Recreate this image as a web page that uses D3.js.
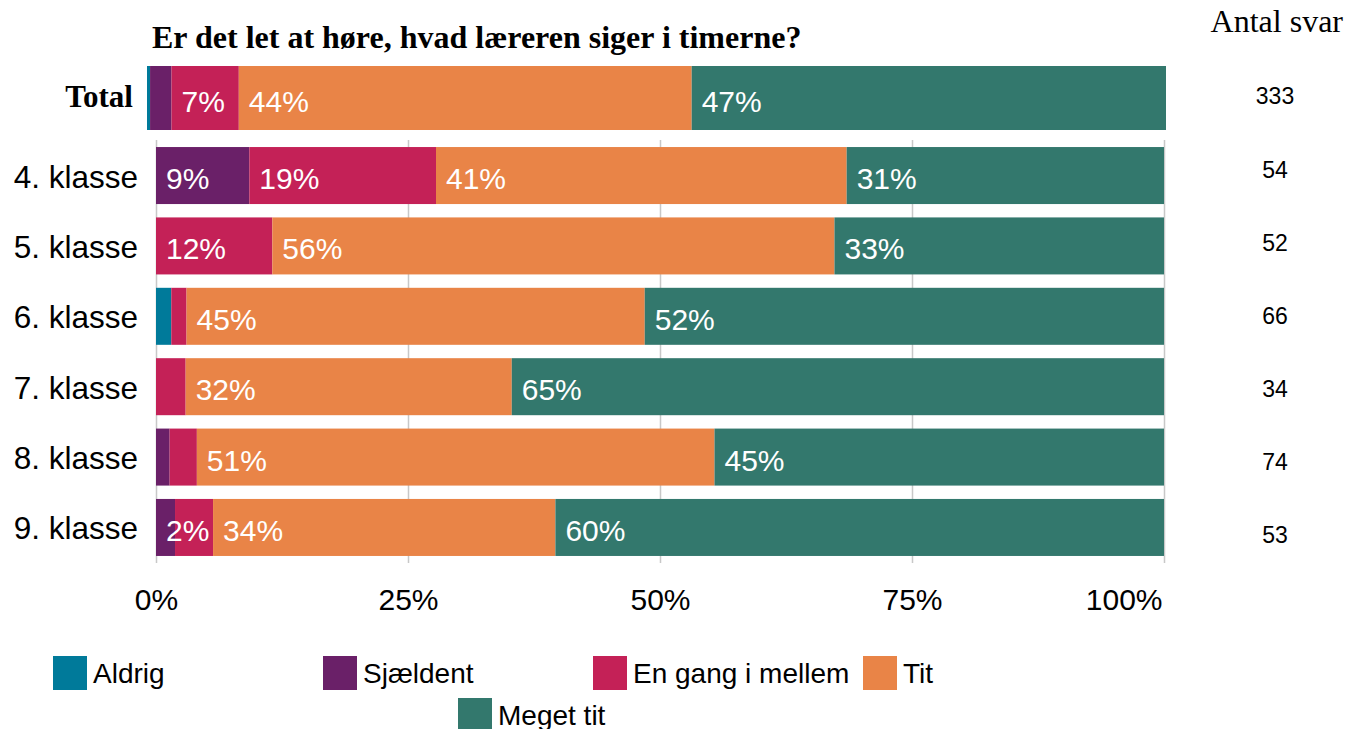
<!DOCTYPE html>
<html>
<head>
<meta charset="utf-8">
<script src="https://cdn.jsdelivr.net/npm/d3@7"></script>
<style>
  body { margin: 0; background: #fff; }
  text { font-family: "Liberation Sans", Arial, sans-serif; }
</style>
</head>
<body>
<div id="viz"></div>
<script>
// answer categories and colours
var categories = ['Aldrig', 'Sjældent', 'En gang i mellem', 'Tit', 'Meget tit'];
var colors = ['#007a9a', '#6a2068', '#c42157', '#e98447', '#33786d'];

// rows: total first, then each grade
var rows = ['Total', '4. klasse', '5. klasse', '6. klasse', '7. klasse', '8. klasse', '9. klasse'];

// number of answers per category, one value per row
var aldrig    = [1, 0, 0, 1, 0, 0, 0];
var sjaeldent = [7, 5, 0, 0, 0, 1, 1];
var enGang    = [22, 10, 6, 1, 1, 2, 2];
var tit       = [148, 22, 29, 30, 11, 38, 18];
var megetTit  = [155, 17, 17, 34, 22, 33, 32];

// small segments that still got a label in the original
var forcedLabels = [['9. klasse', 'Sjældent']];

var tickValues = [0, 0.25, 0.5, 0.75, 1];

var series = [aldrig, sjaeldent, enGang, tit, megetTit];

// build stacked rows
var data = rows.map(function(r, i) {
  var total = d3.sum(series, function(s) { return s[i]; });
  var x0 = 0;
  var segs = categories.map(function(c, j) {
    var p = series[j][i] / total;
    var seg = {row: r, cat: c, color: colors[j], x0: x0, x1: x0 + p, p: p};
    x0 += p;
    return seg;
  });
  return {row: r, n: total, segs: segs};
});

var svg = d3.select('#viz').append('svg')
  .attr('width', 1345)
  .attr('height', 729);

// scales
var grades = rows.slice(1);
var x = d3.scaleLinear().domain([0, 1]).range([156, 1164]);
var xTotal = d3.scaleLinear().domain([0, 1]).range([147, 1166]);
var y = d3.scaleBand().domain(grades).range([140, 563]).paddingInner(0.19).paddingOuter(0.1);
var yTotal = d3.scaleBand().domain(['Total']).range([66, 130]);
var yCount = d3.scaleLinear().domain([0, 5]).range([170, 535]);

// title
svg.append('text')
  .attr('x', 152).attr('y', 48)
  .style('font-family', '"Liberation Serif", "Times New Roman", serif')
  .style('font-weight', 'bold')
  .style('font-size', '32px')
  .text('Er det let at høre, hvad læreren siger i timerne?');

svg.append('text')
  .attr('x', 1343).attr('y', 32)
  .attr('text-anchor', 'end')
  .style('font-family', '"Liberation Serif", "Times New Roman", serif')
  .style('font-size', '32px')
  .text('Antal svar');

// grid lines
var grid = svg.append('g')
  .attr('transform', 'translate(0,563)')
  .call(d3.axisBottom(x).tickValues(tickValues).tickSize(-(563 - 140)).tickFormat(''));
grid.select('.domain').remove();
grid.selectAll('line').attr('stroke', '#c8c8c8').attr('stroke-width', 1.5);

// x axis labels
var xAxis = svg.append('g')
  .attr('transform', 'translate(0,563)')
  .call(d3.axisBottom(x).tickValues(tickValues).tickSize(0).tickPadding(26).tickFormat(d3.format('.0%')));
xAxis.select('.domain').remove();
xAxis.selectAll('text')
  .style('font-family', '"Liberation Sans", Arial, sans-serif')
  .style('font-size', '30px')
  .attr('fill', '#000');
// keep the last label inside the plot
xAxis.selectAll('.tick').filter(function(d) { return d === 1; })
  .select('text').attr('text-anchor', 'end').attr('x', -2);

function isForced(s) {
  return forcedLabels.some(function(f) { return f[0] === s.row && f[1] === s.cat; });
}

// draw one row of bars
function drawRow(g, d, xs, yb) {
  g.selectAll('rect')
    .data(d.segs)
    .enter().append('rect')
    .attr('x', function(s) { return xs(s.x0); })
    .attr('width', function(s) { return xs(s.x1) - xs(s.x0); })
    .attr('y', yb(d.row))
    .attr('height', yb.bandwidth())
    .attr('fill', function(s) { return s.color; });

  g.selectAll('.lbl')
    .data(d.segs.filter(function(s) { return s.p >= 0.05 || isForced(s); }))
    .enter().append('text')
    .attr('class', 'lbl')
    .attr('x', function(s) { return xs(s.x0) + 10; })
    .attr('y', yb(d.row) + yb.bandwidth() / 2)
    .attr('dy', '0.45em')
    .attr('fill', '#fff')
    .style('font-size', '30px')
    .text(function(s) { return Math.round(s.p * 100) + '%'; });
}

// total row
var totalG = svg.append('g');
drawRow(totalG, data[0], xTotal, yTotal);
svg.append('text')
  .attr('x', 133)
  .attr('y', yTotal('Total') + yTotal.bandwidth() / 2)
  .attr('dy', '0.3em')
  .attr('text-anchor', 'end')
  .style('font-family', '"Liberation Serif", "Times New Roman", serif')
  .style('font-weight', 'bold')
  .style('font-size', '31px')
  .text('Total');
svg.append('text')
  .attr('x', 1275).attr('y', 96)
  .attr('dy', '0.35em')
  .attr('text-anchor', 'middle')
  .style('font-size', '23px')
  .text(data[0].n);

// grade rows
data.slice(1).forEach(function(d, i) {
  var g = svg.append('g');
  drawRow(g, d, x, y);
  svg.append('text')
    .attr('x', 138)
    .attr('y', y(d.row) + y.bandwidth() / 2)
    .attr('dy', '0.38em')
    .attr('text-anchor', 'end')
    .style('font-size', '31.5px')
    .text(d.row);
  svg.append('text')
    .attr('x', 1275)
    .attr('y', yCount(i))
    .attr('dy', '0.35em')
    .attr('text-anchor', 'middle')
    .style('font-size', '23px')
    .text(d.n);
});

// legend: 4 columns of 270px, remaining items centred on next row
var itemW = 270, legX = 53, legY = 656, rowH = 42, perRow = 4;
var legend = svg.append('g');
categories.forEach(function(c, i) {
  var r = Math.floor(i / perRow);
  var inRow = Math.min(perRow, categories.length - r * perRow);
  var startX = legX + (perRow - inRow) * itemW / 2;
  var lx = startX + (i % perRow) * itemW;
  var ly = legY + r * rowH;
  legend.append('rect')
    .attr('x', lx).attr('y', ly)
    .attr('width', 34).attr('height', 34)
    .attr('fill', colors[i]);
  legend.append('text')
    .attr('x', lx + 40).attr('y', ly + 17)
    .attr('dy', '0.35em')
    .style('font-size', '28px')
    .text(c);
});
</script>
</body>
</html>
